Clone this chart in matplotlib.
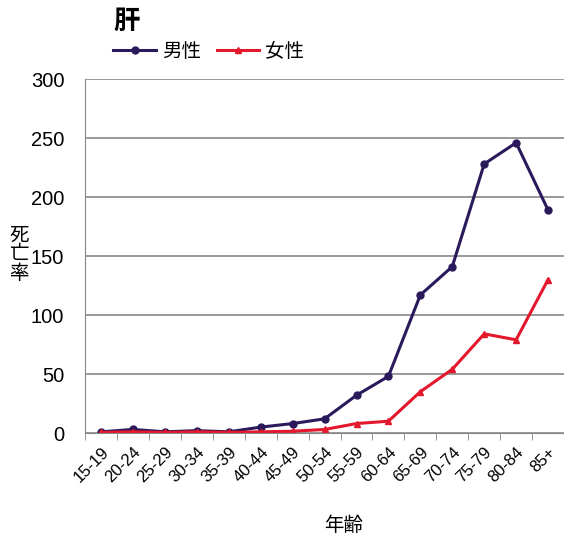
import matplotlib
matplotlib.use('Agg')
import matplotlib.pyplot as plt

plt.rcParams['font.family'] = ['Liberation Sans', 'Noto Sans CJK JP', 'DejaVu Sans']

# 年齢階級
ages = ['15-19', '20-24', '25-29', '30-34', '35-39', '40-44', '45-49', '50-54',
        '55-59', '60-64', '65-69', '70-74', '75-79', '80-84', '85+']
# 死亡率
male = [1, 3, 1, 2, 1, 5, 8, 12, 32, 48, 117, 141, 228, 246, 189]
female = [0.5, 1, 0.5, 1, 0.5, 1, 1.5, 3, 8, 10, 35, 54, 84, 79, 130]

fig = plt.figure(figsize=(5.64, 5.45), dpi=100)
ax = fig.add_axes([0.151, 0.2055, 0.849, 0.6495])

x = list(range(len(ages)))
ax.plot(x, male, color='#2a1a5c', marker='o', markersize=5, linewidth=2.2, label='男性')
ax.plot(x, female, color='#e3182d', marker='^', markersize=5, linewidth=2.2, label='女性')

ax.set_xlim(-0.5, len(ages) - 0.5)
ax.set_ylim(0, 300)
ax.set_yticks(range(0, 301, 50))
ax.yaxis.grid(True, color='#888888', linewidth=1.2)
ax.set_axisbelow(True)
ax.tick_params(axis='y', length=0, labelsize=14.5, pad=15)

ax.set_xticks(x)
ax.set_xticklabels(ages, rotation=45, ha='right', rotation_mode='anchor', fontsize=12)
ax.set_xticks([i - 0.5 for i in range(len(ages) + 1)], minor=True)
ax.tick_params(axis='x', which='major', length=0, pad=8)
ax.tick_params(axis='x', which='minor', length=5, color='#888888')

for s in ['top', 'right']:
    ax.spines[s].set_visible(False)
ax.spines['left'].set_color('#888888')
ax.spines['bottom'].set_color('#888888')

fig.text(0.225, 0.96, '肝', fontsize=19, fontweight='bold', ha='center', va='center')
fig.legend(loc='center left', bbox_to_anchor=(0.17, 0.905), ncol=2, frameon=False,
           fontsize=14, handlelength=2.2, columnspacing=0.8, handletextpad=0.3)
fig.text(0.034, 0.532, '死\n亡\n率', fontsize=14, ha='center', va='center', linespacing=1.1)
fig.text(0.61, 0.035, '年齢', fontsize=14, ha='center', va='center')

fig.savefig('out.png', dpi=100)
